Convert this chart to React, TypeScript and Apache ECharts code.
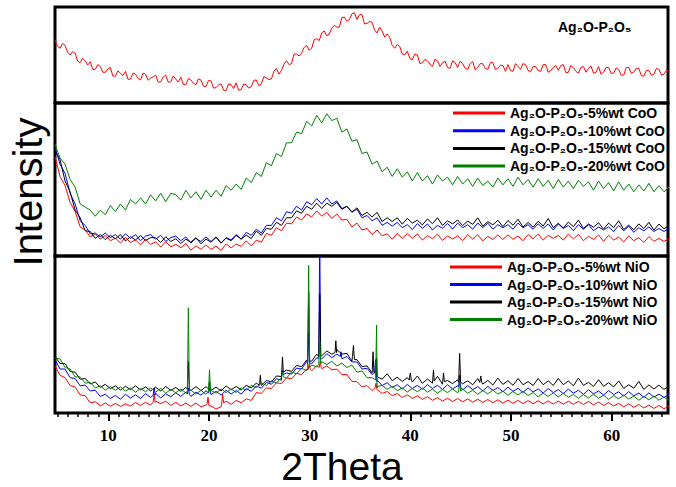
import React, { useEffect, useRef } from "react";
import * as echarts from "echarts";

// 2Theta measurement grid (degrees)
const TWO_THETA: number[] = Array.from({ length: 123 }, (_, i) => Math.round((4.7 + i * 0.5) * 10) / 10);
// intermediate scan points used by the Ag2O-P2O5 pattern
const TWO_THETA_MID: number[] = TWO_THETA.slice(0, 122).map((x) => Math.round((x + 0.25) * 100) / 100);

const X_TICKS = [10, 20, 30, 40, 50, 60];
const X_MINOR = [5, 6, 7, 8, 9, 11, 12, 13, 14, 15, 16, 17, 18, 19, 21, 22, 23, 24, 25, 26, 27, 28, 29, 31, 32, 33, 34, 35, 36, 37, 38, 39, 41, 42, 43, 44, 45, 46, 47, 48, 49, 51, 52, 53, 54, 55, 56, 57, 58, 59, 61, 62, 63, 64, 65];

const AGP_NAME = "Ag₂O-P₂O₅";
const COO_NAMES = ["Ag₂O-P₂O₅-5%wt CoO", "Ag₂O-P₂O₅-10%wt CoO", "Ag₂O-P₂O₅-15%wt CoO", "Ag₂O-P₂O₅-20%wt CoO"];
const NIO_NAMES = ["Ag₂O-P₂O₅-5%wt NiO", "Ag₂O-P₂O₅-10%wt NiO", "Ag₂O-P₂O₅-15%wt NiO", "Ag₂O-P₂O₅-20%wt NiO"];
const COLORS = ["#ff0000", "#0000ff", "#000000", "#008000"];

// Panel 1: Ag2O-P2O5 (relative intensity)
const AGP = [
  66, 57, 60, 50, 52, 42, 44, 43, 35, 38,
  32, 37, 28, 31, 33, 25, 30, 24, 30, 26,
  29, 22, 29, 22, 25, 27, 19, 24, 19, 24,
  17, 23, 16, 20, 13, 19, 21, 14, 19, 17,
  24, 20, 26, 25, 36, 34, 44, 41, 51, 52,
  60, 57, 67, 73, 70, 78, 79, 89, 85, 93,
  87, 92, 83, 84, 73, 75, 72, 60, 61, 51,
  54, 45, 50, 42, 44, 38, 44, 42, 37, 44,
  37, 41, 35, 43, 37, 41, 35, 42, 36, 39,
  40, 33, 38, 41, 34, 38, 34, 40, 32, 37,
  34, 40, 32, 37, 31, 38, 36, 31, 38, 32,
  37, 31, 35, 29, 37, 32, 36, 28, 34, 30,
  35, 30, 33,
];
const AGP_MID = [
  59, 62, 53, 53.5, 43.5, 46.5, 39.5, 35, 40, 32,
  35.5, 28, 33.5, 28.5, 24.7, 31.2, 25.7, 31.2, 23.7, 27.2,
  21.7, 27.2, 21.7, 28.2, 21.7, 19.2, 25.5, 20.7, 25.2, 17.5,
  23.5, 15.5, 18.7, 13.2, 20, 15, 13.2, 19.7, 15.5, 23.5,
  18, 27.5, 24.5, 33, 30, 40.5, 40, 51, 49, 58,
  55, 66, 65, 75, 72, 81, 79, 89.5, 87, 94,
  92, 82.5, 85, 76, 79, 68.5, 68.5, 57, 59, 50,
  46.5, 51, 41, 45.5, 40.5, 45.5, 38, 43.5, 36, 42,
  43.5, 36, 41, 34.5, 41, 36, 42, 35, 39.5, 33,
  34, 41, 35, 40, 32.5, 38, 33, 40, 34, 39,
  39, 31.5, 39, 33, 37, 32, 38.5, 32, 30, 37,
  31, 36.5, 29, 37, 31, 36, 28.5, 34, 29, 36,
  29, 34,
];

// Panel 2: CoO series
const COO_5 = [
  65, 52, 46, 35, 29, 19, 17, 12.5, 14.5, 11,
  13.4, 10, 11.7, 8.4, 12.1, 8.8, 10.5, 7.2, 10.9, 7.6,
  9.2, 5.8, 9.4, 6, 7.7, 5.4, 8.1, 3.8, 6.6, 4.4,
  7.3, 4.3, 6.4, 3.6, 7.9, 5.3, 7.8, 6.3, 9.9, 6.6,
  10.4, 9, 14.8, 13.5, 18.5, 16.5, 21.5, 21, 25.5, 23.5,
  27.5, 25.5, 29.5, 26, 28.5, 24.5, 27.5, 23.5, 24, 19,
  21.5, 17, 18, 14, 17, 13.2, 14.5, 11, 14.7, 11.5,
  14.5, 11.5, 14.4, 10.4, 13.4, 11.3, 14.3, 10.2, 13.2, 11.1,
  13.1, 10, 14, 11, 13.9, 9.9, 12.8, 10.8, 13.8, 10.8,
  13.8, 10.9, 13, 10, 14.1, 11.2, 14.3, 10.4, 13.5, 11.5,
  13.5, 10.4, 14.3, 11.2, 14.1, 10, 12.9, 10.8, 13.7, 9.6,
  13.5, 10.4, 12.3, 9.2, 13.1, 10, 11.9, 8.8, 12.7, 9.6,
  11.5, 9.5, 11.5,
];
const COO_10 = [
  71, 60, 54, 41, 34, 23, 20, 14.5, 15, 12.5,
  15, 12, 14, 11, 14.5, 11.5, 14, 10, 13, 14,
  11, 13.5, 9.5, 12, 13, 10, 12.5, 8.5, 11.5, 9.5,
  12.5, 9.5, 12.5, 8.5, 12, 10.5, 14, 11, 15.5, 13.5,
  17.5, 15, 20, 20, 25, 23, 29, 28, 32.5, 30,
  35.5, 33.5, 37.5, 34, 38, 34, 36, 31, 32.5, 29,
  30.5, 25, 26.5, 23, 25, 20, 22, 19.5, 22, 18.5,
  20.5, 17.3, 21.2, 18, 21, 17, 20, 18.2, 21.3, 17.5,
  21.5, 18.5, 20.5, 17.5, 21.5, 18.5, 21.5, 17.5, 20.5, 18.5,
  20.5, 17.5, 21.5, 18.5, 20.5, 17.5, 21, 18, 21, 17,
  21, 18, 20, 16.5, 20.5, 17.5, 20.5, 16.5, 19, 17,
  19, 16, 20, 16.5, 19.5, 15.5, 18.5, 16.5, 19, 16,
  18, 16, 18,
];
const COO_15 = [
  69, 63, 49, 42, 30, 25, 16.5, 16, 11.5, 14,
  10.7, 13.5, 11.3, 14, 9.8, 12.6, 10.5, 13.3, 10.2, 12,
  11.9, 8.8, 12.6, 9.5, 11.3, 8.2, 11, 9, 12, 8,
  11, 9, 12.2, 8.4, 11.7, 10, 13.5, 11, 13.6, 11.4,
  16.3, 13.5, 18, 17.5, 22, 20, 25, 25, 29.5, 28,
  32.5, 30.5, 34.5, 31, 34.5, 32.5, 35, 30.5, 32.5, 28.5,
  31.5, 26.5, 28.5, 25.5, 28.5, 22.5, 25, 22.5, 25, 20.8,
  24.6, 21.5, 23.4, 20.3, 24.2, 21.1, 25, 20, 23, 21,
  23.5, 19.9, 22.8, 20.7, 25, 19.5, 22.5, 20.4, 23.3, 19.2,
  23.2, 20.1, 24, 19, 21.9, 18.8, 22.7, 19.6, 24.5, 18.5,
  21.4, 18.3, 22.2, 19.1, 23.5, 18, 20.9, 18.8, 21.7, 17.6,
  21.5, 18.5, 23, 17.3, 20.2, 17.1, 21, 18, 22, 16.9,
  20.9, 17.8, 19.8,
];
const COO_20 = [
  73, 64, 60, 50, 45, 34, 32, 30, 26, 30,
  27, 33, 29, 34, 30, 37, 34, 38, 34, 40,
  36, 41, 35.5, 41, 40, 36.5, 43, 38, 42, 37,
  43, 38.5, 43, 39, 46, 43, 47, 43.5, 51, 48,
  54.5, 52, 61, 59, 67, 65, 74, 74, 81, 80,
  88, 85, 92, 87, 93, 88.5, 90, 81, 83, 75,
  76, 67, 68, 60, 62, 55, 58, 52, 57, 51.5,
  55, 49, 54.5, 49, 52.5, 47, 53, 49, 51.5, 46.5,
  52, 47, 50.5, 45.5, 51, 46, 49, 45, 51, 46.5,
  50.5, 45.5, 51.5, 46.5, 50, 45, 50.5, 45.5, 49.5, 44,
  50, 45, 49, 44, 49.5, 45.5, 48.5, 43, 49, 44,
  48, 42.5, 48.5, 43, 47, 42, 46.5, 42.5, 47.5, 42,
  46, 42, 45,
];

// Panel 3: NiO series
const NIO_5 = [
  30, 24, 22.5, 17.5, 16.5, 11.5, 11, 6.5, 7.2, 4.5,
  6.4, 4.3, 6.1, 4.2, 5.8, 4.4, 6.7, 4.8, 6.8, 5,
  7.5, 6, 7.5, 4.8, 6.8, 4.5, 6.3, 4.2, 6.3, 4,
  5, 4.5, 2.5, 4, 7.5, 5.5, 8, 6.5, 9, 8,
  13, 12.5, 16, 15.6, 19.2, 18.8, 22.3, 21.8, 25.2, 24.5,
  28, 27, 30, 28.2, 30, 27.5, 28, 24.5, 24.5, 20,
  20, 16.6, 17.5, 14.3, 15.3, 12.5, 13.7, 11, 12.4, 9.9,
  11.6, 9.3, 11, 8.7, 10.4, 8.1, 9.8, 7.6, 9.4, 7.3,
  9.2, 7.1, 9, 6.9, 8.8, 6.7, 8.6, 6.5, 8.4, 6.3,
  8.2, 6.1, 8, 6, 7.9, 5.9, 7.8, 5.8, 7.7, 5.7,
  7.6, 5.6, 7.5, 5.5, 7.4, 5.4, 7.3, 5.2, 7, 4.8,
  6.6, 4.4, 6.2, 4, 5.8, 3.6, 5.4, 3.2, 5, 2.9,
  4.8, 2.7, 4.6,
];
const NIO_10 = [
  34, 28, 28, 22.5, 22, 17.3, 17.8, 14, 14.5, 10.5,
  12, 9.2, 11.2, 8.8, 11.9, 9.5, 11.6, 9.2, 12.3, 9.9,
  12.5, 9.6, 12.2, 10.3, 12.9, 10.6, 13.3, 10.5, 13.2, 11.4,
  14.1, 11.7, 13.8, 11.4, 14.5, 12.1, 14.3, 12, 15.5, 13.8,
  17.2, 15.8, 19.5, 18.3, 21.8, 20.9, 25.5, 24.8, 28.6, 28,
  32.8, 31.3, 35.2, 34.4, 37.8, 35.3, 37.5, 34.5, 36, 32.5,
  32.5, 28, 28.5, 24.5, 21, 17.5, 19.3, 16.3, 18, 15.3,
  18.2, 15.6, 17.6, 15.1, 18.1, 15.6, 17.6, 15, 18, 15.4,
  17.3, 14.7, 17.5, 14.9, 16.8, 14.1, 17, 14.4, 16.2, 13.6,
  16.5, 13.8, 15.7, 13.1, 16, 13.4, 15.3, 12.7, 15.6, 13,
  14.9, 12.3, 15.2, 12.6, 14.5, 11.9, 14.8, 12.2, 14, 11.4,
  14.3, 11.7, 13.5, 10.8, 13.6, 10.9, 12.7, 10, 12.8, 10.1,
  12, 9.9, 11.8,
];
const NIO_15 = [
  36, 31.5, 31.5, 26.5, 26, 21.5, 22, 18.5, 19.8, 16.3,
  18.3, 15.5, 17.3, 14.6, 17, 14.9, 17.3, 14.7, 16.6, 14.1,
  16.5, 14, 16.9, 14.4, 16.3, 13.8, 16.3, 14.3, 16.8, 14.3,
  16.8, 14.4, 16.5, 14.1, 17.2, 14.8, 16.9, 14.7, 17.6, 16,
  19, 17.5, 20.8, 19.7, 23.6, 23.2, 27.3, 26.5, 30.3, 29.5,
  33.8, 33, 37.5, 36.5, 39.5, 37.5, 40.5, 37.5, 38, 33,
  34, 29.5, 30, 25.5, 24.5, 21.5, 25, 20.6, 22.8, 20.1,
  22.5, 19.8, 23.6, 18.9, 21.7, 19, 23.4, 18.3, 20.7, 18.7,
  21.1, 18.6, 20.5, 18, 21.9, 18.4, 20.8, 17.8, 22.2, 18.2,
  20.6, 17.6, 22, 18, 20, 17.5, 22, 18, 20.5, 17.5,
  22, 18, 20.4, 17.3, 22.2, 17.6, 19.5, 16.9, 21.2, 17,
  19.3, 16.6, 20.4, 15.7, 18, 15.8, 20.1, 15, 17.9, 15.3,
  17.7, 15.1, 17,
];
const NIO_20 = [
  35, 34.5, 29, 28, 23, 23, 19, 19.5, 16, 17.3,
  14.5, 16.7, 14.4, 16.7, 14, 15.8, 13.2, 15.6, 13.5, 15.9,
  13.3, 15.7, 12.6, 15, 12.9, 15.3, 12.7, 14.6, 12, 14.4,
  11.9, 14.5, 12.6, 15.3, 13, 15.3, 13.1, 16, 14.5, 17.7,
  16, 19.3, 17.6, 20.5, 19, 22.8, 22.2, 26.1, 25, 28.4,
  27, 30.5, 29.4, 32.7, 30.8, 32.9, 30, 31.8, 29, 30.5,
  26, 26.8, 22.5, 22.5, 16, 17.5, 15, 17.1, 14.3, 16,
  13.3, 15.6, 13.5, 15.9, 13.3, 15.2, 12.6, 15, 13, 15.4,
  12.8, 15.2, 12.6, 14.5, 11.9, 14.3, 12.2, 14.6, 12, 13.9,
  11.3, 13.7, 11.5, 13.8, 11.1, 13, 10.3, 12.6, 10.5, 12.8,
  10.2, 12.6, 10, 11.9, 9.3, 11.7, 9.6, 12, 9.4, 11.3,
  8.7, 11.1, 9, 11.4, 8.8, 10.7, 8.1, 10.5, 8.4, 10.8,
  8.2, 10.1, 8,
];

// Sharp crystalline reflections, [2theta, intensity]
const NIO_5_PEAKS = [
  [14.45, 6.8], [14.55, 12], [14.65, 6.8],
  [19.8, 5.5], [19.9, 10], [20.0, 4.5],
  [21.25, 5], [21.35, 12], [21.45, 6.5],
  [29.85, 27.5], [29.95, 31], [30.05, 28],
  [30.95, 29], [31.05, 33], [31.15, 29],
  [36.5, 16], [36.6, 19], [36.68, 15],
];
const NIO_10_PEAKS = [
  [14.45, 11.3], [14.55, 16], [14.65, 11.3],
  [17.85, 12], [17.95, 16], [18.05, 12],
  [19.95, 12.8], [20.05, 16], [20.15, 12.8],
  [27.22, 24], [27.3, 27], [27.38, 24.5],
  [29.8, 31.5], [29.9, 51], [30.0, 32],
  [30.9, 34.5], [31.0, 110], [31.1, 35],
  [33.05, 36], [33.12, 39], [33.18, 35.5],
  [36.45, 26], [36.55, 34], [36.68, 20],
  [44.8, 16.6], [44.9, 24], [45.0, 16.5],
];
const NIO_15_PEAKS = [
  [17.85, 15.3], [17.95, 33], [18.05, 15.3],
  [19.95, 15.3], [20.05, 20], [20.15, 15.3],
  [25.02, 17.7], [25.1, 24], [25.18, 18],
  [27.22, 25.5], [27.3, 35.7], [27.38, 26],
  [29.8, 32.5], [29.9, 77], [30.0, 33],
  [30.9, 36], [31.0, 76], [31.1, 36.5],
  [32.52, 38.5], [32.6, 46], [32.68, 38.5],
  [34.25, 36], [34.35, 43], [34.45, 34],
  [36.22, 27.5], [36.3, 39], [36.38, 26],
  [36.55, 25], [36.65, 35], [36.75, 23],
  [39.9, 21], [40.0, 25.5], [40.1, 21],
  [42.22, 20.4], [42.3, 27.4], [42.38, 20.3],
  [43.22, 20], [43.3, 25.5], [43.38, 20],
  [44.8, 19.6], [44.9, 38], [45.0, 19.6],
  [46.9, 19.5], [47.0, 23.6], [47.1, 19.5],
];
const NIO_20_PEAKS = [
  [17.85, 14], [17.95, 67], [18.05, 14],
  [19.95, 13.6], [20.05, 27.4], [20.15, 13.6],
  [27.22, 23], [27.3, 26], [27.38, 23],
  [29.8, 28.5], [29.9, 94], [30.0, 29],
  [30.9, 31], [31.0, 46], [31.1, 31.5],
  [36.55, 21], [36.65, 56], [36.75, 17],
  [44.8, 14], [44.9, 20], [45.0, 14],
];

const X_MIN = 4.7;
const X_MAX = 65.6;
const SANS = "'Liberation Sans', Arial, Helvetica, sans-serif";
const SERIF = "'Liberation Serif', 'Times New Roman', Times, serif";

function pairs(values: number[], extra: number[][] = []): number[][] {
  const pts = TWO_THETA.map((x, i) => [x, values[i]]);
  return pts.concat(extra).sort((a, b) => a[0] - b[0]);
}

function lineSeries(name: string, color: string, idx: number, data: number[][]) {
  return {
    name,
    type: "line",
    xAxisIndex: idx,
    yAxisIndex: idx,
    data,
    symbol: "none",
    color,
    lineStyle: { color, width: 1 },
    silent: true,
  };
}

export default function App() {
  const ref = useRef<HTMLDivElement>(null);
  useEffect(() => {
    if (!ref.current) return;
    const chart = echarts.init(ref.current, undefined, { renderer: "svg" });
    const gridBase = { left: 55, right: 8, show: true, borderColor: "#000", borderWidth: 3, backgroundColor: "transparent" };
    const hiddenX = (i: number) => ({ gridIndex: i, type: "value", min: X_MIN, max: X_MAX, show: false });
    const legendBase = {
      orient: "vertical",
      itemWidth: 52,
      itemHeight: 3,
      icon: "rect",
      padding: 0,
      selectedMode: false,
      textStyle: { fontFamily: SANS, fontWeight: "bold", fontSize: 14, color: "#000", lineHeight: 15 },
    };
    const cooData = [COO_5, COO_10, COO_15, COO_20];
    const nioData = [NIO_5, NIO_10, NIO_15, NIO_20];
    const nioPeaks = [NIO_5_PEAKS, NIO_10_PEAKS, NIO_15_PEAKS, NIO_20_PEAKS];
    const agpMid = TWO_THETA_MID.map((x, i) => [x, AGP_MID[i]]);
    chart.setOption({
      animation: false,
      grid: [
        { ...gridBase, top: 7, height: 96 },
        { ...gridBase, top: 103, height: 153 },
        { ...gridBase, top: 256, height: 157 },
      ],
      xAxis: [
        hiddenX(0),
        hiddenX(1),
        {
          gridIndex: 2,
          type: "value",
          min: X_MIN,
          max: X_MAX,
          position: "bottom",
          axisLine: { show: false },
          splitLine: { show: false },
          axisTick: { show: true, inside: false, length: 8, customValues: X_TICKS, lineStyle: { color: "#000", width: 2 } },
          axisLabel: { customValues: X_TICKS, margin: 14, fontFamily: SERIF, fontWeight: "bold", fontSize: 17, color: "#000" },
        },
        {
          gridIndex: 2,
          type: "value",
          min: X_MIN,
          max: X_MAX,
          position: "bottom",
          axisLine: { show: false },
          splitLine: { show: false },
          axisTick: { show: true, inside: false, length: 4, customValues: X_MINOR, lineStyle: { color: "#000", width: 1.5 } },
          axisLabel: { show: false },
        },
      ],
      yAxis: [0, 1, 2].map((i) => ({ gridIndex: i, type: "value", min: 0, max: 100, show: false })),
      legend: [
        { ...legendBase, data: COO_NAMES, left: 453, top: 105.5, itemGap: 2.7 },
        { ...legendBase, data: NIO_NAMES, left: 450, top: 259.5, itemGap: 2.5 },
      ],
      graphic: [
        {
          type: "text",
          x: 558,
          y: 27,
          style: { text: AGP_NAME, fontFamily: SANS, fontWeight: "bold", fontSize: 14, fill: "#000", textVerticalAlign: "middle" },
        },
        {
          type: "text",
          x: 28,
          y: 192,
          rotation: Math.PI / 2,
          style: { text: "Intensity", fontFamily: SANS, fontSize: 40, fill: "#000", textAlign: "center", textVerticalAlign: "middle" },
        },
        {
          type: "text",
          x: 342,
          y: 466,
          style: { text: "2Theta", fontFamily: SANS, fontSize: 39, fill: "#000", textAlign: "center", textVerticalAlign: "middle" },
        },
      ],
      series: [
        lineSeries(AGP_NAME, "#ff0000", 0, pairs(AGP, agpMid)),
        ...COO_NAMES.map((n, k) => lineSeries(n, COLORS[k], 1, pairs(cooData[k]))),
        ...NIO_NAMES.map((n, k) => lineSeries(n, COLORS[k], 2, pairs(nioData[k], nioPeaks[k]))),
      ],
    });
    return () => chart.dispose();
  }, []);
  return <div ref={ref} style={{ position: "fixed", left: 0, top: 0, width: 676, height: 487, background: "#fff" }} />;
}
